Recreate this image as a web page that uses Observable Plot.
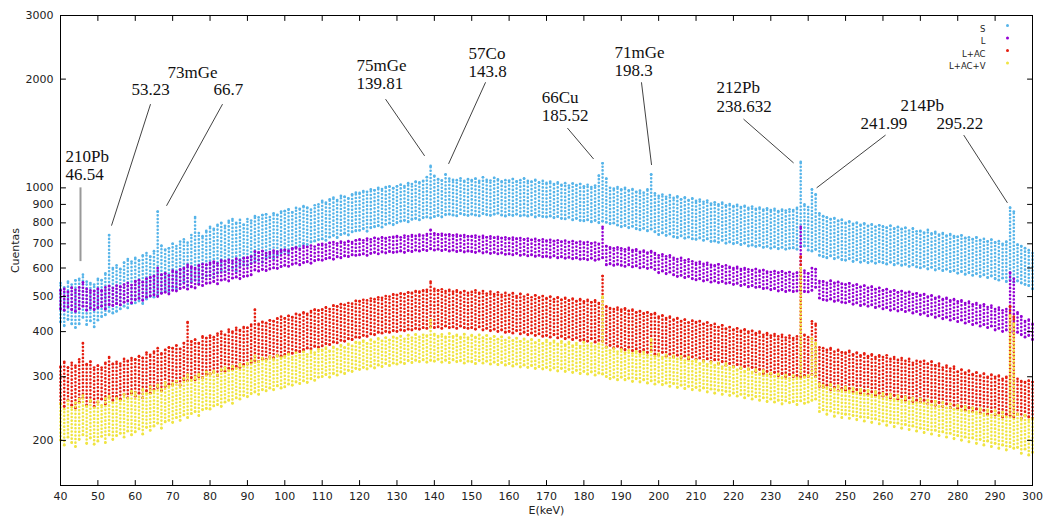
<!DOCTYPE html>
<html><head><meta charset="utf-8">
<script src="https://cdn.jsdelivr.net/npm/d3@7"></script>
<script src="https://cdn.jsdelivr.net/npm/@observablehq/plot@0.6"></script>
<style>body{margin:0;background:#fff} svg{display:block}</style>
</head><body><div id="chart"></div>
<script>
// Energy channels (keV), one column of readings per keV
const energies = d3.range(40, 301);

// S : low / high extent of each column (Cuentas)
const S_lo = [
425,415,432,420,410,420,438,418,428,412,
430,440,445,455,450,455,462,470,465,478,
480,486,478,492,500,498,505,512,520,515,
530,525,540,548,536,550,556,545,562,570,
572,565,580,590,585,592,600,588,605,612,
610,618,625,630,622,640,645,636,650,660,
668,660,678,685,690,700,696,708,712,718,
722,715,730,738,728,742,748,740,755,760,
762,770,758,775,780,785,778,792,798,790,
800,808,812,805,818,822,815,826,830,825,
832,838,830,842,845,840,836,848,842,838,
845,840,836,848,842,838,845,850,840,835,
842,838,845,836,840,835,842,830,838,832,
830,835,826,832,822,820,828,815,822,812,
810,815,805,812,800,808,802,795,798,788,
780,786,775,782,770,765,772,760,768,755,
742,750,738,745,732,728,736,725,730,722,
720,726,715,722,710,712,706,715,702,708,
700,705,696,702,690,694,688,692,684,688,
680,686,678,684,676,680,682,676,688,690,
672,668,675,650,645,640,648,636,642,632,
630,636,625,632,622,628,620,626,618,624,
620,615,622,612,618,610,614,606,612,604,
600,606,596,602,592,598,590,595,586,590,
580,586,576,582,572,578,568,574,564,570,
560,555,562,550,556,548,552,545,540,536,
525];
const S_hi = [
545,530,550,540,555,560,575,550,545,540,
560,555,580,740,600,610,595,620,635,625,
640,630,650,660,645,668,860,690,675,680,
700,690,710,720,705,740,830,750,735,760,
780,770,790,800,785,810,820,800,815,790,
820,812,835,828,840,845,830,850,842,860,
862,870,855,880,875,890,882,870,895,900,
920,910,930,940,925,950,945,935,960,970,
968,980,975,990,985,1000,992,1005,1010,998,
1010,1020,1012,1030,1025,1040,1035,1045,1070,1150,
1080,1055,1048,1090,1060,1052,1050,1062,1045,1055,
1050,1060,1045,1070,1052,1048,1065,1055,1042,1050,
1048,1058,1040,1050,1062,1045,1040,1052,1035,1045,
1032,1040,1025,1035,1020,1030,1015,1028,1018,1025,
1010,1020,1005,1015,1080,1170,1060,1000,995,1005,
990,1000,985,992,975,982,970,990,1090,965,
950,958,945,955,938,948,930,942,925,935,
920,928,915,922,905,912,900,910,895,902,
890,898,885,892,880,888,875,882,870,878,
868,875,862,870,865,872,868,880,1180,900,
885,990,960,850,835,828,820,825,810,815,
800,808,795,802,790,798,785,792,780,788,
780,775,785,770,778,768,775,762,770,758,
760,752,765,748,755,742,750,738,745,735,
732,738,725,730,720,728,715,722,710,718,
705,712,700,708,880,860,695,690,680,672,
660];

// L
const L_lo = [
462,458,468,460,455,462,470,458,465,460,
466,470,462,475,472,478,474,482,486,480,
490,494,488,498,502,505,500,510,514,508,
520,518,526,530,524,532,528,540,536,544,
545,550,542,555,558,552,562,566,560,568,
570,574,592,588,594,590,596,600,598,605,
610,606,614,618,612,620,624,618,628,632,
630,636,640,634,644,640,648,645,652,650,
652,656,650,658,662,656,664,660,666,662,
664,668,662,670,666,672,668,674,670,678,
672,676,670,674,668,672,666,670,664,668,
666,662,668,660,664,658,662,656,660,654,
656,652,658,650,654,648,652,646,650,644,
646,642,648,640,644,638,642,636,640,634,
636,632,638,630,634,640,612,616,610,614,
610,606,612,604,608,600,604,598,602,594,
582,588,578,584,574,568,572,564,568,560,
556,560,552,556,548,552,546,550,544,546,
540,544,536,540,532,536,530,532,526,528,
522,526,518,522,516,520,516,518,520,516,
515,520,530,495,490,488,492,485,488,482,
480,484,476,480,472,476,470,474,466,470,
462,466,458,462,456,460,454,458,450,454,
446,450,442,446,438,442,434,438,430,434,
426,430,422,426,418,422,414,418,410,414,
404,408,400,404,400,398,398,392,386,390,
380];
const L_hi = [
520,525,515,528,522,530,548,525,520,518,
525,520,530,535,528,536,532,540,545,538,
550,555,548,560,565,570,600,575,580,572,
590,585,595,600,612,605,600,610,615,612,
620,625,618,630,626,632,628,635,630,638,
640,645,665,662,668,660,664,670,666,672,
675,670,680,684,678,690,686,692,688,696,
700,696,704,708,702,710,706,712,708,716,
720,716,724,720,726,722,728,724,730,732,
735,730,738,734,740,736,742,738,745,765,
748,742,746,740,744,738,742,736,740,734,
735,738,732,736,730,734,728,732,726,730,
725,728,722,726,720,724,718,722,716,720,
715,718,712,716,710,714,708,712,706,710,
705,708,702,706,700,780,690,684,680,684,
680,676,682,672,676,665,670,662,668,660,
650,655,646,650,640,635,640,630,634,626,
620,624,616,620,612,610,614,606,610,604,
600,604,596,600,595,592,596,590,592,586,
585,588,582,586,580,584,578,582,780,590,
580,600,595,552,550,546,552,544,548,542,
540,544,536,540,532,536,528,532,524,528,
520,524,516,520,514,518,512,514,508,510,
505,508,500,504,496,500,492,496,488,492,
485,488,480,484,476,480,472,476,468,472,
462,466,458,462,583,560,452,440,428,432,
420];

// L+AC
const LAC_lo = [
252,248,258,250,246,255,262,250,256,248,
255,260,252,262,258,264,260,268,262,270,
265,270,262,274,270,276,280,274,282,286,
285,290,284,294,292,298,294,300,298,304,
305,308,302,312,310,316,314,320,318,324,
325,328,332,330,336,335,340,338,344,342,
345,350,348,354,352,356,360,358,364,362,
365,370,368,374,372,378,376,382,380,386,
385,390,388,394,392,398,396,400,398,402,
400,404,402,406,404,408,406,410,408,412,
410,412,408,414,410,412,408,414,410,408,
410,406,412,404,408,402,406,400,404,398,
400,396,402,394,398,392,396,390,394,388,
390,386,392,384,388,382,386,380,384,378,
380,376,382,374,378,376,362,366,360,364,
360,356,362,354,358,352,356,350,354,346,
345,350,342,346,340,344,338,342,336,340,
335,338,332,336,330,334,326,330,322,326,
320,324,316,320,314,318,310,314,306,310,
305,308,302,306,300,304,300,302,300,302,
300,304,300,282,280,284,276,280,274,278,
275,278,272,276,270,274,268,272,266,270,
265,268,262,266,260,264,258,262,256,258,
255,258,252,256,250,254,248,252,246,250,
245,248,242,246,240,244,238,242,236,240,
235,238,232,236,234,232,236,230,234,232,
230];
const LAC_hi = [
320,330,318,328,322,335,372,325,330,318,
322,318,328,340,325,330,326,336,332,338,
335,342,338,350,345,352,360,348,356,362,
360,366,358,372,425,375,380,372,388,384,
390,386,395,400,392,405,400,410,404,412,
410,418,460,420,426,422,430,428,435,440,
435,442,438,448,445,452,448,456,460,458,
460,466,462,472,470,476,474,480,478,486,
485,490,488,494,492,498,496,502,500,506,
505,510,508,514,512,518,516,520,522,550,
525,520,524,518,522,516,520,514,518,512,
515,520,512,518,510,516,508,514,506,512,
505,510,502,508,500,506,498,504,496,502,
495,500,492,498,490,496,488,494,486,492,
485,490,482,488,480,570,470,465,462,466,
460,464,456,460,452,456,448,452,446,450,
440,444,436,440,432,436,428,432,424,428,
425,428,420,424,416,420,412,416,408,412,
405,408,402,406,400,402,396,400,392,396,
390,394,388,392,385,390,384,388,645,392,
386,427,420,362,360,356,360,352,356,350,
350,354,346,350,344,348,342,346,340,344,
340,344,336,340,334,338,332,336,328,332,
330,332,326,330,322,326,318,322,316,320,
310,314,308,312,305,308,302,306,300,304,
300,302,296,300,470,440,296,292,290,292,
290];

// L+AC+V
const LACV_lo = [
200,194,204,197,192,201,207,196,203,195,
199,205,197,207,201,206,209,204,212,207,
211,215,208,217,213,219,223,216,225,227,
224,231,227,235,231,237,240,234,243,245,
244,249,251,248,255,258,253,262,260,266,
264,269,272,268,276,274,279,276,283,279,
281,286,284,290,287,292,289,296,293,299,
300,304,299,306,303,309,306,312,310,316,
314,318,315,321,317,323,320,326,322,327,
325,329,326,332,328,333,330,334,329,333,
331,335,329,333,328,334,330,332,327,331,
330,326,332,327,331,325,329,324,328,323,
326,321,325,319,323,318,322,316,320,315,
318,313,317,311,316,310,314,308,312,306,
310,305,309,303,307,305,300,296,299,294,
299,294,297,291,296,290,294,288,292,286,
290,285,288,282,287,280,284,278,282,276,
280,275,279,272,277,270,275,268,273,266,
270,265,268,262,266,260,264,258,262,256,
260,255,258,252,257,254,256,251,257,253,
255,258,260,240,243,236,241,233,238,231,
236,230,234,228,232,226,231,224,229,222,
226,220,224,218,223,216,221,214,219,212,
216,210,214,208,213,206,211,204,209,202,
206,200,204,198,203,196,201,194,199,192,
196,190,194,188,192,190,191,184,189,182,
185];
const LACV_hi = [
252,244,257,247,254,260,266,249,258,246,
256,250,261,265,254,262,257,268,261,273,
271,264,277,270,281,274,285,277,289,282,
287,292,285,297,304,293,300,305,298,309,
306,311,304,314,318,312,321,316,325,320,
327,332,342,330,338,334,341,336,344,339,
342,347,340,349,344,351,346,354,350,357,
356,361,354,363,358,367,362,370,365,374,
373,378,371,380,375,383,377,385,379,387,
384,389,382,391,385,393,387,392,390,430,
394,389,393,387,395,388,392,386,393,385,
391,386,392,384,390,382,388,381,387,379,
385,378,384,376,382,375,381,373,379,371,
379,372,377,370,376,368,374,366,372,365,
373,366,371,364,369,500,362,355,359,352,
357,350,355,348,353,346,351,344,381,342,
347,340,345,338,343,336,341,333,339,331,
334,327,332,325,330,323,328,320,326,318,
320,314,318,311,316,309,314,306,312,304,
307,301,305,299,303,297,302,298,600,300,
302,382,372,287,284,280,286,278,283,276,
281,274,279,271,277,269,275,267,273,265,
270,263,268,260,266,258,264,256,262,254,
260,253,258,250,256,248,254,246,252,244,
250,243,248,241,246,239,245,237,243,235,
241,234,239,232,443,420,237,230,235,228,
230];

const seriesNames = ["S", "L", "L+AC", "L+AC+V"];
const seriesColors = ["#56B4E9", "#9400D3", "#E51E10", "#F0E442"];
const seriesLo = [S_lo, L_lo, LAC_lo, LACV_lo];
const seriesHi = [S_hi, L_hi, LAC_hi, LACV_hi];

const xTicks = [40,50,60,70,80,90,100,110,120,130,140,150,160,170,180,190,200,210,220,230,240,250,260,270,280,290,300];
const yTicks = [200,300,400,500,600,700,800,900,1000,2000,3000];

// Annotation labels (data coordinates) and leader lines
const labelText = ["210Pb\n46.54","73mGe","53.23","66.7","75mGe\n139.81","57Co\n143.8","66Cu\n185.52","71mGe\n198.3","212Pb\n238.632","214Pb","241.99","295.22"];
const labelX    = [41.34, 68.6, 59.0, 80.9, 119.2, 149.15, 168.7, 188.2, 215.5, 264.7, 254.0, 274.35];
const labelY    = [1154, 2090, 1875, 1875, 2063, 2226, 1683, 2247, 1788, 1694, 1511, 1511];

const lineX1 = [64.08, 83.34, 126.95, 153.7, 175.6, 195.4, 222.7, 260.7, 281.6];
const lineY1 = [1705, 1705, 1760, 1960, 1464, 1960, 1550, 1400, 1400];
const lineX2 = [53.64, 68.36, 137.4, 143.8, 182.6, 198.1, 236.1, 242.25, 293.3];
const lineY2 = [786, 892, 1226, 1165, 1202, 1157, 1172, 1000, 909];
const pbLine = [{x: 45.35, y1: 625, y2: 1000}];

const labels = labelText.map((t, i) => ({t, x: labelX[i], y: labelY[i]}));
const leaders = lineX1.map((x1, i) => ({x1, y1: lineY1[i], x2: lineX2[i], y2: lineY2[i]}));

const seriesMarks = seriesNames.flatMap((name, k) => {
  const rows = energies.map((e, i) => ({e, lo: seriesLo[k][i], hi: seriesHi[k][i]}));
  return [
    Plot.ruleX(rows, {x: "e", y1: "lo", y2: "hi", stroke: seriesColors[k], strokeWidth: 2.6, strokeLinecap: "round", strokeDasharray: "0,3.6"}),
    Plot.dot(rows, {x: "e", y: "hi", r: 1.35, fill: seriesColors[k]}),
    Plot.dot(rows, {x: "e", y: "lo", r: 1.35, fill: seriesColors[k]})
  ];
});

const tickShape = {draw(context, l) { context.moveTo(0, 0); context.lineTo(0, -l); }};
const tickOpts = {length: 5, anchor: "start", shape: tickShape, stroke: "black", strokeWidth: 1};

const legendMarks = seriesNames.flatMap((name, i) => [
  Plot.text([name], {text: d => d, frameAnchor: "top-right", dx: -47, dy: 10 + 12.5 * i, textAnchor: "end", fontSize: 8.5, fill: "#222"}),
  Plot.dot([name], {frameAnchor: "top-right", dx: -25, dy: 10 + 12.5 * i, r: 1.5, fill: seriesColors[i]})
]);

const chart = Plot.plot({
  width: 1046, height: 524,
  marginLeft: 60, marginRight: 14, marginTop: 15, marginBottom: 39,
  style: {fontFamily: "'DejaVu Sans', sans-serif", fontSize: "11px", color: "#222", background: "white"},
  x: {domain: [40, 300]},
  y: {type: "log", domain: [150, 3000]},
  marks: [
    ...seriesMarks,
    Plot.link(leaders, {x1: "x1", y1: "y1", x2: "x2", y2: "y2", stroke: "#111", strokeWidth: 0.8}),
    Plot.ruleX(pbLine, {x: "x", y1: "y1", y2: "y2", stroke: "#999", strokeWidth: 2}),
    Plot.text(labels, {x: "x", y: "y", text: "t", textAnchor: "start", lineAnchor: "middle", lineHeight: 1.08, fontFamily: "'Liberation Serif', 'Times New Roman', serif", fontSize: 17, fill: "#111"}),
    Plot.axisX({ticks: xTicks, tickSize: 0, tickPadding: 7, label: "E(keV)", labelAnchor: "center", labelArrow: false, labelOffset: 28}),
    Plot.axisY({ticks: yTicks, tickFormat: d => String(d), tickSize: 0, tickPadding: 7, label: "Cuentas", labelAnchor: "center", labelArrow: false, labelOffset: 49}),
    Plot.vector(xTicks, {x: d => d, frameAnchor: "bottom", rotate: 0, ...tickOpts}),
    Plot.vector(xTicks, {x: d => d, frameAnchor: "top", rotate: 180, ...tickOpts}),
    Plot.vector(yTicks, {y: d => d, frameAnchor: "left", rotate: 90, ...tickOpts}),
    Plot.vector(yTicks, {y: d => d, frameAnchor: "right", rotate: -90, ...tickOpts}),
    ...legendMarks,
    Plot.frame({stroke: "black", strokeWidth: 1})
  ]
});
document.getElementById("chart").appendChild(chart);
</script>
</body></html>
